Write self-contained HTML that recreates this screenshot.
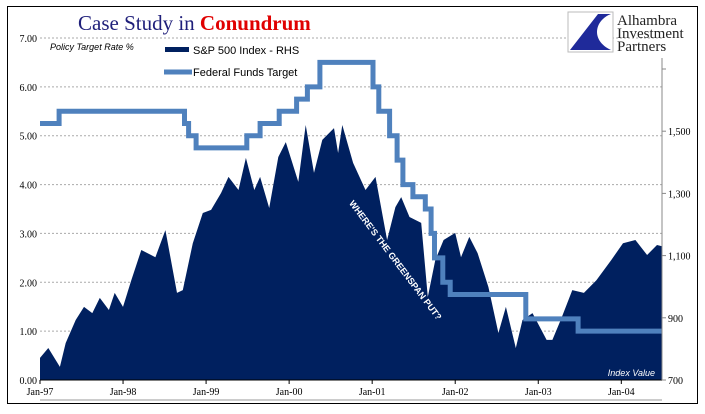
<!DOCTYPE html>
<html><head><meta charset="utf-8"><style>
body{margin:0;background:#fff}
svg text{font-family:"Liberation Sans",sans-serif}
</style></head><body>
<svg width="705" height="409" xmlns="http://www.w3.org/2000/svg">
<rect x="7.5" y="6.5" width="690" height="397" fill="#fff" stroke="#000" stroke-width="1"/>
<g id="grid"></g>
<path id="area" fill="#00205f"/>
<path id="ff" fill="none" stroke="#4f81bd" stroke-width="5"/>
<g id="axes"></g>
<text x="78" y="30" font-family="Liberation Serif,serif" font-size="21" fill="#1f1f7a" style="font-family:'Liberation Serif',serif">Case Study in <tspan fill="#e00000" font-weight="bold">Conundrum</tspan></text>
<text x="50" y="50" font-size="9" font-style="italic" fill="#000">Policy Target Rate %</text>
<rect x="165" y="47" width="24" height="5" fill="#00205f"/>
<text x="193" y="54" font-size="11" fill="#000">S&amp;P 500 Index - RHS</text>
<line x1="164" y1="72" x2="192" y2="72" stroke="#4f81bd" stroke-width="5"/>
<text x="193" y="76" font-size="11" fill="#000">Federal Funds Target</text>
<text transform="translate(393,262) rotate(53)" text-anchor="middle" font-size="9" font-weight="bold" fill="#fff">WHERE'S THE GREENSPAN PUT?</text>
<text x="655" y="376" text-anchor="end" font-size="9" font-style="italic" fill="#fff">Index Value</text>
<g>
<rect x="568" y="12" width="45" height="40" fill="#fff" stroke="#bbb"/>
<path d="M570,50 L598,14 L611,14 C595,20 590,40 611,50 Z" fill="#1f2a9a"/>
<text x="617" y="25" font-size="15" fill="#222" style="font-family:'Liberation Serif',serif">Alhambra</text>
<text x="617" y="38" font-size="15" fill="#222" style="font-family:'Liberation Serif',serif">Investment</text>
<text x="617" y="51" font-size="15" fill="#222" style="font-family:'Liberation Serif',serif">Partners</text>
</g>
</svg>
<script>
const spYears=[0.00,0.10,0.24,0.31,0.43,0.53,0.63,0.72,0.83,0.90,1.00,1.10,1.22,1.39,1.51,1.65,1.72,1.84,1.96,2.06,2.18,2.27,2.39,2.48,2.58,2.65,2.76,2.87,2.96,3.11,3.20,3.30,3.40,3.54,3.59,3.64,3.77,3.92,4.04,4.18,4.28,4.35,4.45,4.59,4.67,4.76,4.86,5.00,5.07,5.17,5.27,5.40,5.52,5.61,5.73,5.81,5.93,6.10,6.17,6.27,6.41,6.55,6.70,6.88,7.02,7.17,7.31,7.43,7.49];
const spValues=[771,803,742,819,893,935,915,964,925,980,935,1021,1118,1095,1182,980,989,1140,1237,1247,1301,1353,1311,1414,1311,1353,1253,1417,1465,1337,1520,1366,1472,1510,1430,1520,1398,1311,1353,1150,1256,1288,1224,1205,967,1086,1150,1173,1095,1160,1108,999,851,935,803,893,915,829,829,893,989,980,1021,1086,1140,1150,1102,1134,1130];
const ffYears=[0,0.23,1.74,1.79,1.88,2.49,2.65,2.88,3.09,3.22,3.37,4.01,4.08,4.21,4.30,4.37,4.49,4.64,4.71,4.75,4.85,4.94,5.85,6.48];
const ffValues=[5.25,5.5,5.25,5.0,4.75,5.0,5.25,5.5,5.75,6.0,6.5,6.0,5.5,5.0,4.5,4.0,3.75,3.5,3.0,2.5,2.0,1.75,1.25,1.0];
const leftTicks=[0,1,2,3,4,5,6,7];
const leftLabels=["0.00","1.00","2.00","3.00","4.00","5.00","6.00","7.00"];
const rightTicks=[700,900,1100,1300,1500,1700];
const rightLabels=["700","900","1,100","1,300","1,500",""];
const xTicks=[0,1,2,3,4,5,6,7];
const xLabels=["Jan-97","Jan-98","Jan-99","Jan-00","Jan-01","Jan-02","Jan-03","Jan-04"];
const X0=40,X1=662,Y0=380,Y1=38,XMAX=7.49;
const sx=t=>X0+t/XMAX*(X1-X0);
const syL=v=>Y0-v/7*(Y0-Y1);
const syR=v=>Y0-(v-700)/200*62.2;
const NS="http://www.w3.org/2000/svg";
function mk(tag,attrs,parent,txt){const e=document.createElementNS(NS,tag);for(const k in attrs)e.setAttribute(k,attrs[k]);if(txt!==undefined)e.textContent=txt;parent.appendChild(e);return e;}
const grid=document.getElementById('grid'),axes=document.getElementById('axes');
leftTicks.forEach((v,i)=>{if(v>0){const g=mk('line',{x1:X0,x2:X1,y1:syL(v),y2:syL(v),stroke:'#aaa','stroke-dasharray':'2,2','stroke-width':1},grid);

}
const t=mk('text',{x:X0-3,y:syL(v)+4,'text-anchor':'end','font-size':10,style:"font-family:'Liberation Serif',serif"},axes,leftLabels[i]);

});
let d=`M${sx(spYears[0])},${Y0}`;spYears.forEach((t,i)=>{d+=` L${sx(t).toFixed(1)},${syR(spValues[i]).toFixed(1)}`;});
d+=` L${sx(spYears[spYears.length-1])},${Y0} Z`;document.getElementById('area').setAttribute('d',d);
let f=`M${sx(ffYears[0])},${syL(ffValues[0])}`;for(let i=1;i<ffYears.length;i++){f+=` H${sx(ffYears[i]).toFixed(1)} V${syL(ffValues[i]).toFixed(1)}`;}
f+=` H${X1}`;document.getElementById('ff').setAttribute('d',f);
mk('line',{x1:X0,x2:X1,y1:Y0,y2:Y0,stroke:'#000'},axes);
mk('line',{x1:X1,x2:X1,y1:Y1+20,y2:Y0,stroke:'#888'},axes);
mk('line',{x1:X0,x2:X1,y1:400,y2:400,stroke:'#999'},axes);
rightTicks.forEach((v,i)=>{mk('line',{x1:X1,x2:X1+4,y1:syR(v),y2:syR(v),stroke:'#888'},axes);
const t=mk('text',{x:X1+6,y:syR(v)+4,'font-size':10,style:"font-family:'Liberation Serif',serif"},axes,rightLabels[i]);

});
xTicks.forEach((v,i)=>{mk('line',{x1:sx(v),x2:sx(v),y1:Y0,y2:Y0+4,stroke:'#000'},axes);
const t=mk('text',{x:sx(v),y:Y0+15,'text-anchor':'middle','font-size':10,style:"font-family:'Liberation Serif',serif"},axes,xLabels[i]);

});
</script>
</body></html>
